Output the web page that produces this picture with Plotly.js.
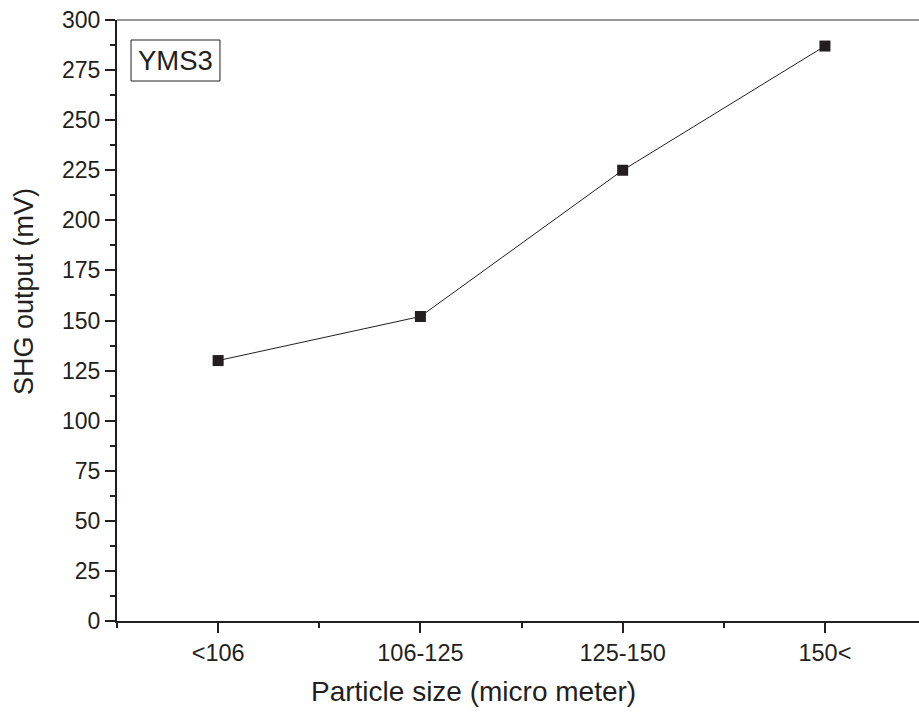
<!DOCTYPE html>
<html><head><meta charset="utf-8">
<script src="https://cdn.plot.ly/plotly-3.0.1.min.js"></script>
<style>html,body{margin:0;padding:0;background:#fff;overflow:hidden}</style>
</head><body>
<div id="chart" style="width:919px;height:712px"></div>
<script>
const categories = ["<106", "106-125", "125-150", "150<"];
const shgOutput = [130, 152, 225, 287];
const sampleLabel = "YMS3";
const xTitle = "Particle size (micro meter)";
const yTitle = "SHG output (mV)";
const yTicks = [0, 25, 50, 75, 100, 125, 150, 175, 200, 225, 250, 275, 300];

const xIdx = categories.map((c, i) => i);
const font = "Liberation Sans, Arial, sans-serif";
const ink = "#231f20";

Plotly.newPlot("chart", [{
  x: xIdx, y: shgOutput, type: "scatter", mode: "lines+markers",
  line: {color: ink, width: 1},
  marker: {symbol: "square", size: 11, color: ink},
  hoverinfo: "skip"
}], {
  width: 919, height: 712,
  margin: {l: 117, r: 0, t: 20, b: 91},
  paper_bgcolor: "#fff", plot_bgcolor: "#fff",
  showlegend: false,
  font: {family: font, color: ink},
  xaxis: {
    range: [-0.5, 3.465], tickvals: xIdx, ticktext: categories,
    showgrid: false, zeroline: false, showline: true, linecolor: ink, linewidth: 2,
    ticks: "outside", ticklen: 10, tickwidth: 2, tickcolor: ink,
    minor: {dtick: 0.5, tick0: 0.5, ticks: "outside", ticklen: 5, tickwidth: 2, tickcolor: ink, showgrid: false},
    tickfont: {size: 23.5, family: font, color: ink}
  },
  yaxis: {
    range: [0, 300], tickvals: yTicks,
    showgrid: false, zeroline: false, showline: true, linecolor: ink, linewidth: 2,
    ticks: "outside", ticklen: 10, tickwidth: 2, tickcolor: ink,
    minor: {dtick: 12.5, tick0: 0, ticks: "outside", ticklen: 5, tickwidth: 2, tickcolor: ink, showgrid: false},
    tickfont: {size: 23, family: font, color: ink}
  },
  shapes: [
    {type: "line", xref: "paper", yref: "paper", x0: 0, x1: 1, y0: 1, y1: 1,
     line: {color: "#777", width: 1.5}},
    {type: "rect", xref: "paper", yref: "paper", x0: 0.0175, x1: 0.1284, y0: 0.8985, y1: 0.9667,
     line: {color: ink, width: 1}, fillcolor: "rgba(0,0,0,0)"}
  ],
  annotations: [
    {xref: "paper", yref: "paper", x: 0.0729, y: 0.9326, xanchor: "center", yanchor: "middle",
     text: sampleLabel, showarrow: false, font: {size: 27.5, family: font, color: ink}},
    {xref: "paper", yref: "paper", x: 0.444, y: -0.118, xanchor: "center", yanchor: "middle",
     text: xTitle, showarrow: false, font: {size: 28, family: font, color: ink}},
    {xref: "paper", yref: "paper", x: -0.116, y: 0.549, xanchor: "center", yanchor: "middle",
     textangle: -90, text: yTitle, showarrow: false, font: {size: 27, family: font, color: ink}}
  ]
}, {displayModeBar: false, staticPlot: true});
</script>
</body></html>
